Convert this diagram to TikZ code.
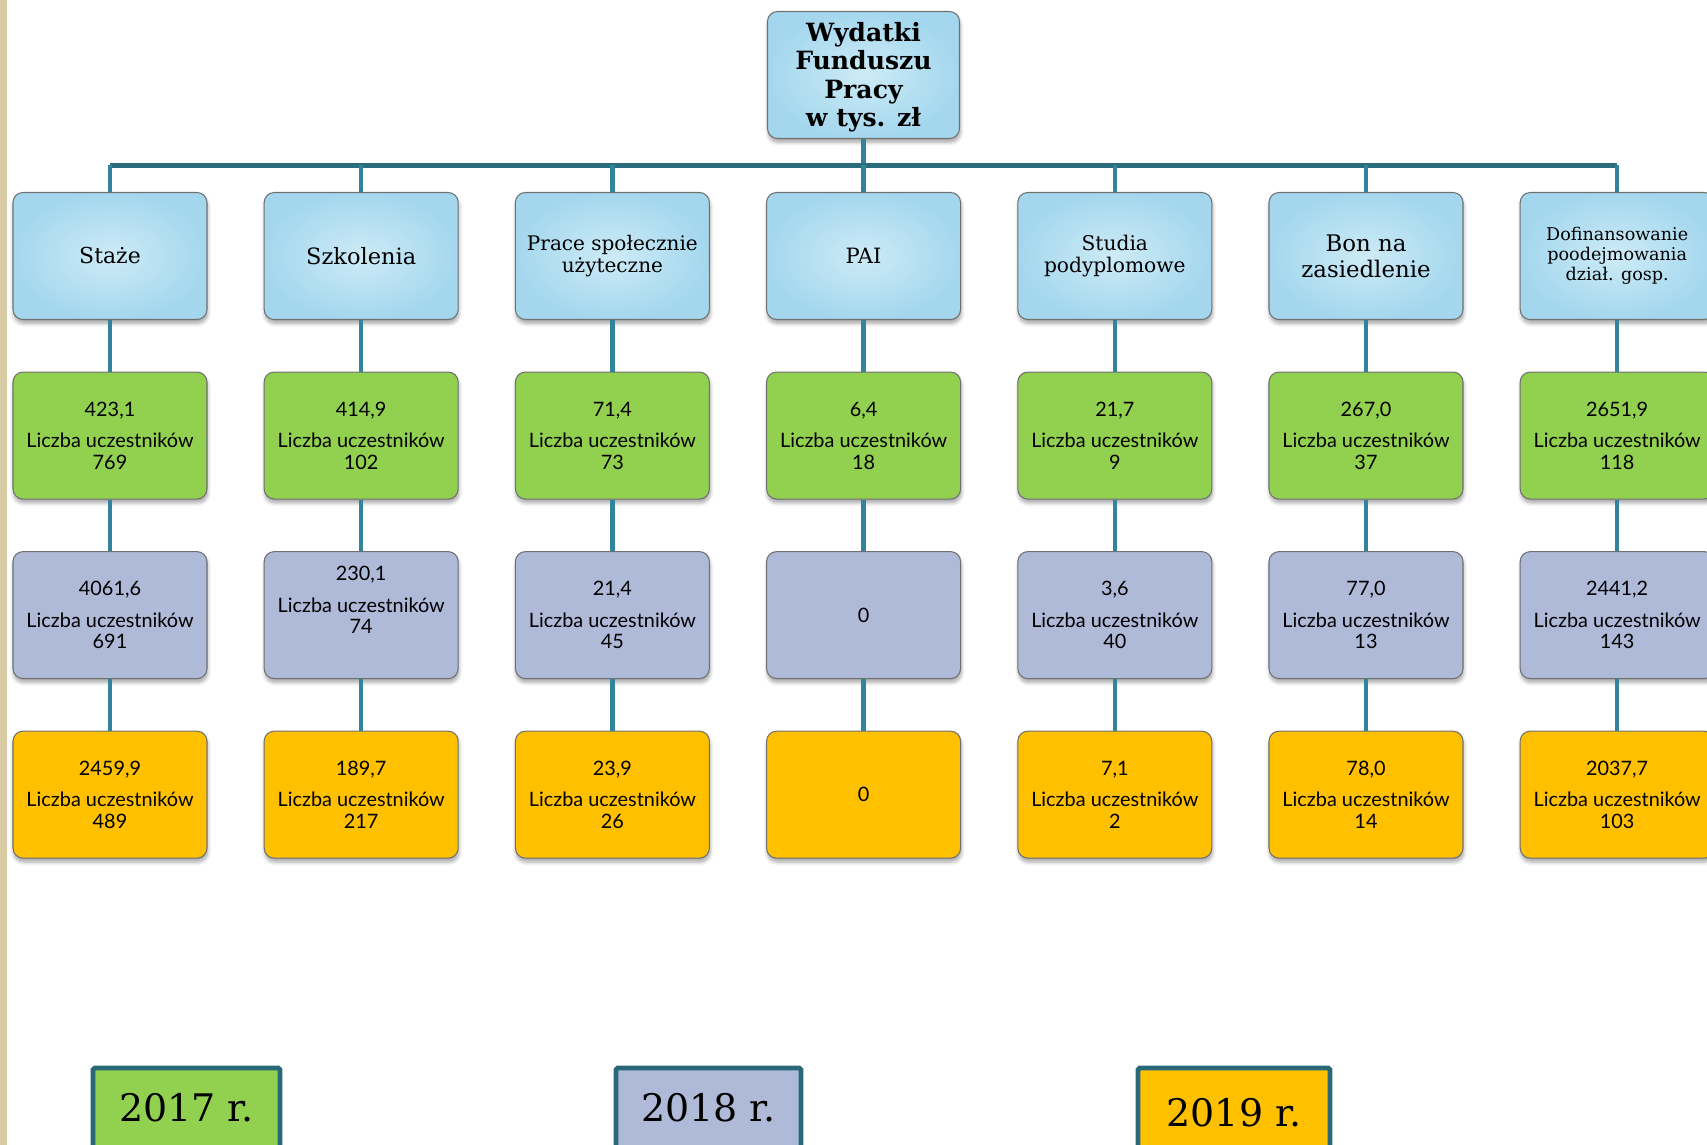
\documentclass[tikz,border=0pt]{standalone}
\usepackage{fontspec}
\setmainfont{DejaVu Serif}
\newfontfamily\numfont{Lato}
\usetikzlibrary{positioning}
\usetikzlibrary{shadows.blur}

\definecolor{hdrin}{HTML}{CDEBF6}
\definecolor{hdrout}{HTML}{A4D7EE}
\definecolor{grn}{HTML}{92D050}
\definecolor{lav}{HTML}{AFB9D8}
\definecolor{amber}{HTML}{FFC000}
\definecolor{busteal}{HTML}{2B6C7C}
\definecolor{linkteal}{HTML}{31849B}
\definecolor{yearline}{HTML}{286878}
\definecolor{boxline}{HTML}{707070}
\definecolor{beige}{HTML}{D9CBA4}

\newcommand{\fsz}[2]{\fontsize{#1}{#2}\selectfont}
\newcommand{\uczest}[2]{#1\\[5.6pt]Liczba uczestników\\#2}

\tikzset{
  box/.style={draw=boxline, line width=0.6pt, rounded corners=0.2cm,
    minimum width=3.88cm, minimum height=2.54cm, align=center, inner sep=1pt,
    blur shadow={shadow xshift=0.4pt, shadow yshift=-2.2pt,
      shadow blur steps=6, shadow opacity=35}},
  head/.style={box, inner color=hdrin, outer color=hdrout},
  val/.style={box, font=\numfont\fsz{11.3}{12.3}},
  y17/.style={val, fill=grn},
  y18/.style={val, fill=lav},
  y19/.style={val, fill=amber},
  link/.style={draw=linkteal, line width=2.5pt},
  busline/.style={draw=busteal, line width=3.4pt},
  yearbox/.style={draw=yearline, line width=2.8pt, rounded corners=1pt,
    minimum height=1.6cm, font=\fsz{21.6}{25}}
}

\begin{document}
\begin{tikzpicture}[node distance=1.03cm]
\useasboundingbox (0,0) rectangle (34.14,-22.9);
\fill[beige] (0,0) rectangle (0.13,-22.9);

% top
\node[head, minimum width=3.84cm, font=\bfseries\fsz{14.3}{16}] (fp) at (17.27,-1.5)
  {\rule{0pt}{13.4pt}Wydatki\\Funduszu\\Pracy\\w tys. zł};
\coordinate (bus) at (0,-3.31);

% headers
\node[head, font=\fsz{12.5}{15}] (h1) at (2.2,-5.12) {Staże};
\node[head, font=\fsz{12.8}{15}] (h2) at (7.224,-5.12) {Szkolenia};
\node[head, font=\fsz{11.4}{12.4}] (h3) at (12.248,-5.12) {Prace społecznie\\użyteczne};
\node[head, font=\fsz{12}{12.4}] (h4) at (17.272,-5.12) {PAI};
\node[head, font=\fsz{11.5}{12.4}] (h5) at (22.296,-5.12) {Studia\\podyplomowe};
\node[head, font=\fsz{13}{14.8}] (h6) at (27.32,-5.12) {Bon na\\zasiedlenie};
\node[head, font=\fsz{10}{11.4}] (h7) at (32.344,-5.12) {Dofinansowanie\\poodejmowania\\dział. gosp.};

% 2017
\node[y17, below=of h1] (g1) {\uczest{423,1}{769}};
\node[y17, below=of h2] (g2) {\uczest{414,9}{102}};
\node[y17, below=of h3] (g3) {\uczest{71,4}{73}};
\node[y17, below=of h4] (g4) {\uczest{6,4}{18}};
\node[y17, below=of h5] (g5) {\uczest{21,7}{9}};
\node[y17, below=of h6] (g6) {\uczest{267,0}{37}};
\node[y17, below=of h7] (g7) {\uczest{2651,9}{118}};

% 2018
\node[y18, below=of g1] (b1) {\uczest{4061,6}{691}};
\node[y18, below=of g2] (b2) {\uczest{230,1}{74}\\[4.7pt]\mbox{}};
\node[y18, below=of g3] (b3) {\uczest{21,4}{45}};
\node[y18, below=of g4] (b4) {0};
\node[y18, below=of g5] (b5) {\uczest{3,6}{40}};
\node[y18, below=of g6] (b6) {\uczest{77,0}{13}};
\node[y18, below=of g7] (b7) {\uczest{2441,2}{143}};

% 2019
\node[y19, below=of b1] (o1) {\uczest{2459,9}{489}};
\node[y19, below=of b2] (o2) {\uczest{189,7}{217}};
\node[y19, below=of b3] (o3) {\uczest{23,9}{26}};
\node[y19, below=of b4] (o4) {0};
\node[y19, below=of b5] (o5) {\uczest{7,1}{2}};
\node[y19, below=of b6] (o6) {\uczest{78,0}{14}};
\node[y19, below=of b7] (o7) {\uczest{2037,7}{103}};

% connectors
\draw[link] (fp.south) -- (fp |- bus);
\draw[busline] (h1 |- bus) -- (h7 |- bus);
\foreach \i in {1,...,7} {
  \draw[link] (h\i |- bus) -- (h\i.north);
  \draw[link] (h\i.south) -- (g\i.north);
  \draw[link] (g\i.south) -- (b\i.north);
  \draw[link] (b\i.south) -- (o\i.north);
}

% legend
\node[yearbox, fill=grn, minimum width=3.74cm] (r17) at (3.73,-22.16) {2017 r.};
\node[yearbox, fill=lav, minimum width=3.7cm] (r18) at (14.17,-22.16) {2018 r.};
\node[yearbox, fill=amber, minimum width=3.84cm] (r19) at (24.68,-22.16)
  {\raisebox{-2.5pt}[\height][\depth]{2019 r.}};

\end{tikzpicture}
\end{document}
